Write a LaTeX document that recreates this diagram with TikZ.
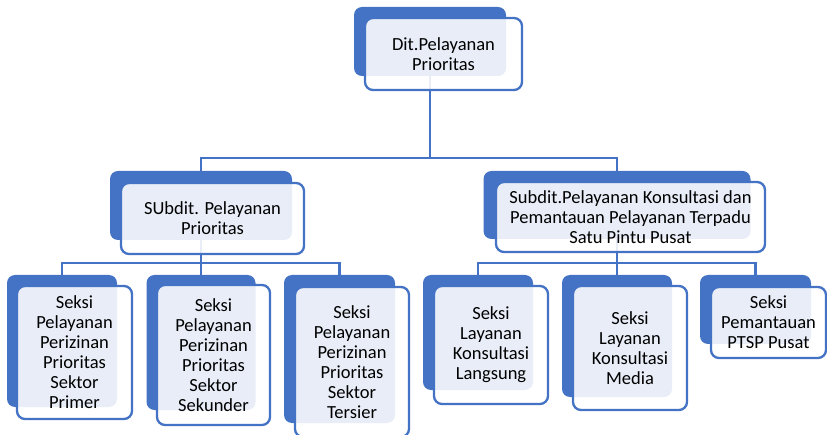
\documentclass[tikz,border=0pt]{standalone}
\usepackage{fontspec}
\setmainfont{Carlito}
\definecolor{orgblue}{HTML}{4472C4}

\begin{document}
\begin{tikzpicture}[x=1pt,y=-1pt]
		\tikzstyle{back}=[fill=orgblue,rounded corners=8pt,inner sep=0]
		\tikzstyle{front}=[draw=orgblue,line width=2.3pt,fill=white,fill opacity=0.88,text opacity=1,rounded corners=8pt,inner sep=0,align=center,font=\fontsize{18.5}{20}\selectfont]
		\tikzstyle{link}=[draw=orgblue,line width=2.4pt]
		\useasboundingbox (0,0) rectangle (827,435);

		% blue boxes behind
		\node[back,minimum width=152pt,minimum height=69pt] (dit) at (430,41.5) {};
		\node[back,minimum width=182pt,minimum height=69pt] (subA) at (201,205.5) {};
		\node[back,minimum width=267pt,minimum height=68pt] (subB) at (617,205) {};
		\node[back,minimum width=110pt,minimum height=132pt] (s1) at (62,341) {};
		\node[back,minimum width=109pt,minimum height=135pt] (s2) at (201,342.5) {};
		\node[back,minimum width=111pt,minimum height=148pt] (s3) at (339.5,349) {};
		\node[back,minimum width=110pt,minimum height=115pt] (s4) at (478,332.5) {};
		\node[back,minimum width=110pt,minimum height=122pt] (s5) at (617,336) {};
		\node[back,minimum width=111pt,minimum height=69pt] (s6) at (755.5,309.5) {};

		% tree lines
		\coordinate (busTop) at (430,158);
		\draw[link] (dit) -- (busTop);
		\draw[link] (subA.north) |- (busTop) -| (subB.north);
		\coordinate (busA) at (201,263);
		\draw[link] (subA) -- (busA);
		\draw[link] (s1.north) |- (busA) -| (s3.north);
		\draw[link] (busA) -- (s2.north);
		\coordinate (busB) at (617,263);
		\draw[link] (subB) -- (busB);
		\draw[link] (s4.north) |- (busB) -| (s6.north);
		\draw[link] (busB) -- (s5.north);

		% text boxes in front
		\node[front,minimum width=157pt,minimum height=72pt] (ditText) at (443.5,54) {Dit.Pelayanan\\Prioritas};
		\node[front,minimum width=183pt,minimum height=71pt] (subAText) at (212.5,218.5) {SUbdit. Pelayanan\\Prioritas};
		\node[front,minimum width=269pt,minimum height=70pt] (subBText) at (630.5,217) {Subdit.Pelayanan Konsultasi dan\\Pemantauan Pelayanan Terpadu\\Satu Pintu Pusat};
		\node[front,minimum width=115pt,minimum height=133pt] (s1Text) at (74.5,352.5) {Seksi\\Pelayanan\\Perizinan\\Prioritas\\Sektor\\Primer};
		\node[front,minimum width=113pt,minimum height=140pt] (s2Text) at (213.5,355) {Seksi\\Pelayanan\\Perizinan\\Prioritas\\Sektor\\Sekunder};
		\node[front,minimum width=114pt,minimum height=150pt] (s3Text) at (352,362) {Seksi\\Pelayanan\\Perizinan\\Prioritas\\Sektor\\Tersier};
		\node[front,minimum width=114pt,minimum height=118pt] (s4Text) at (491,345) {Seksi\\Layanan\\Konsultasi\\Langsung};
		\node[front,minimum width=114pt,minimum height=124pt] (s5Text) at (630,348) {Seksi\\Layanan\\Konsultasi\\Media};
		\node[front,minimum width=115pt,minimum height=71pt] (s6Text) at (768.5,322.5) {Seksi\\Pemantauan\\PTSP Pusat};
	\end{tikzpicture}
\end{document}
